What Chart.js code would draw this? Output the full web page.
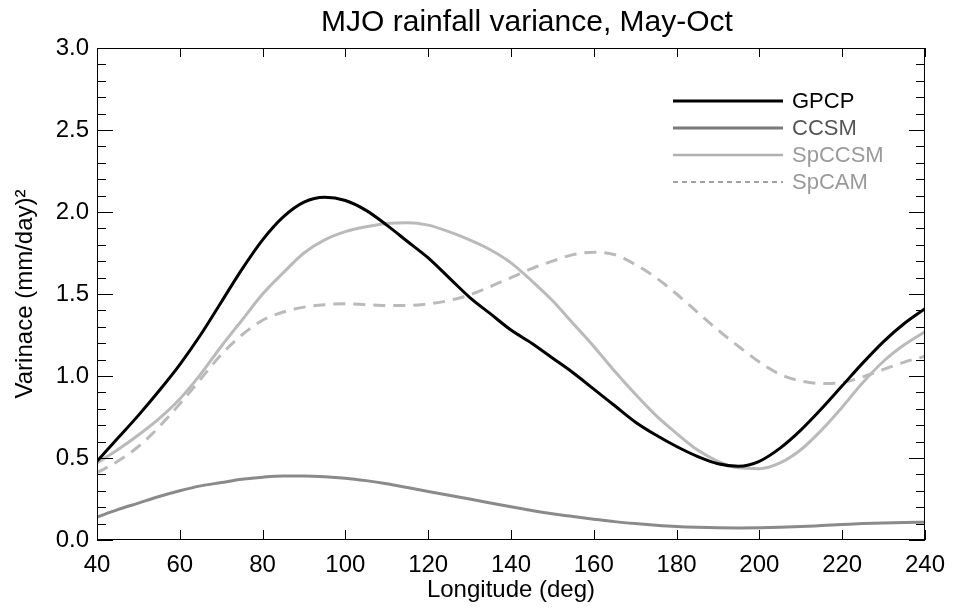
<!DOCTYPE html>
<html>
<head>
<meta charset="utf-8">
<title>MJO rainfall variance</title>
<script src="https://cdn.jsdelivr.net/npm/chart.js@4.4.1/dist/chart.umd.min.js"></script>
<style>
  html, body { margin: 0; padding: 0; background: #ffffff; }
  #wrap { width: 956px; height: 611px; }
</style>
</head>
<body>
<div id="wrap"><canvas id="mjoChart"></canvas></div>
<script>
// Datos (cada 5 grados de longitud)
const longitudes = [40, 45, 50, 55, 60, 65, 70, 75, 80, 85, 90, 95, 100, 105, 110, 115, 120, 125, 130, 135, 140,
    145, 150, 155, 160, 165, 170, 175, 180, 185, 190, 195, 200, 205, 210, 215, 220, 225, 230, 235, 240];

const gpcp = [0.48, 0.62, 0.76, 0.91, 1.07, 1.25, 1.45, 1.65, 1.83, 1.97, 2.06, 2.09, 2.07, 2.01, 1.92, 1.82,
    1.72, 1.60, 1.48, 1.38, 1.28, 1.20, 1.11, 1.02, 0.92, 0.82, 0.72, 0.64, 0.57, 0.51, 0.465, 0.45, 0.48, 0.56,
    0.67, 0.80, 0.94, 1.08, 1.21, 1.32, 1.41];

const ccsm = [0.14, 0.185, 0.225, 0.265, 0.30, 0.33, 0.35, 0.37, 0.383, 0.39, 0.39, 0.386, 0.377, 0.362, 0.343,
    0.32, 0.296, 0.273, 0.25, 0.226, 0.203, 0.18, 0.16, 0.143, 0.127, 0.112, 0.10, 0.09, 0.082, 0.077, 0.074,
    0.073, 0.074, 0.077, 0.082, 0.088, 0.094, 0.10, 0.104, 0.107, 0.108];

const spccsm = [0.47, 0.55, 0.64, 0.74, 0.86, 1.01, 1.18, 1.34, 1.50, 1.63, 1.75, 1.83, 1.88, 1.91, 1.93, 1.935,
    1.92, 1.88, 1.83, 1.77, 1.69, 1.58, 1.46, 1.32, 1.18, 1.03, 0.89, 0.76, 0.65, 0.55, 0.48, 0.44, 0.435, 0.47,
    0.55, 0.67, 0.81, 0.96, 1.09, 1.19, 1.27];

const spcam = [0.41, 0.48, 0.57, 0.69, 0.83, 0.98, 1.13, 1.25, 1.34, 1.39, 1.42, 1.435, 1.44, 1.435, 1.43, 1.43,
    1.44, 1.46, 1.495, 1.545, 1.60, 1.655, 1.70, 1.74, 1.755, 1.74, 1.68, 1.60, 1.50, 1.39, 1.28, 1.18, 1.085,
    1.01, 0.97, 0.955, 0.96, 0.995, 1.04, 1.085, 1.12];

const xTicks = [40, 60, 80, 100, 120, 140, 160, 180, 200, 220, 240];
const yTicks = [0.0, 0.5, 1.0, 1.5, 2.0, 2.5, 3.0];

const FONT = "'Liberation Sans', Arial, Helvetica, sans-serif";
const TITLE = 'MJO rainfall variance, May-Oct';

// Leyenda: texto en colores distintos, lineas a la izquierda
const legendItems = [
    { text: 'GPCP', color: '#000000', line: '#000000', width: 3, dash: [] },
    { text: 'CCSM', color: '#555555', line: '#7a7a7a', width: 3, dash: [] },
    { text: 'SpCCSM', color: '#9a9a9a', line: '#b0b0b0', width: 2.5, dash: [] },
    { text: 'SpCAM', color: '#9a9a9a', line: '#a0a0a0', width: 2, dash: [5, 4] }
];

function toPoints(values) {
    return longitudes.map((lon, i) => ({ x: lon, y: values[i] }));
}

// Marco y marcas hacia dentro en los cuatro lados
const frameTicks = {
    id: 'frameTicks',
    afterDatasetsDraw(chart) {
        const { ctx, chartArea: a, scales } = chart;
        const xs = scales.x, ys = scales.y;
        ctx.save();
        ctx.strokeStyle = '#000000';
        ctx.lineWidth = 1;
        ctx.strokeRect(a.left + 0.5, a.top + 0.5, a.right - a.left - 1, a.bottom - a.top - 1);

        ctx.beginPath();
        xTicks.forEach(v => {
            const px = Math.round(xs.getPixelForValue(v)) + 0.5;
            ctx.moveTo(px, a.bottom);
            ctx.lineTo(px, a.bottom - 10);
            ctx.moveTo(px, a.top);
            ctx.lineTo(px, a.top + 9);
        });
        for (let k = 0; k <= 30; k++) {
            const py = Math.round(ys.getPixelForValue(k / 10)) + 0.5;
            const len = (k % 5 === 0) ? 16 : 9;
            ctx.moveTo(a.left, py);
            ctx.lineTo(a.left + len, py);
            ctx.moveTo(a.right, py);
            ctx.lineTo(a.right - len, py);
        }
        ctx.stroke();
        ctx.restore();
    }
};

// Titulo y leyenda dibujados a mano
const titleAndLegend = {
    id: 'titleAndLegend',
    afterDatasetsDraw(chart) {
        const { ctx } = chart;
        ctx.save();
        ctx.fillStyle = '#000000';
        ctx.font = '30px ' + FONT;
        ctx.textAlign = 'center';
        ctx.textBaseline = 'alphabetic';
        ctx.fillText(TITLE, 527, 31);

        ctx.font = '22px ' + FONT;
        ctx.textBaseline = 'middle';
        ctx.textAlign = 'left';
        legendItems.forEach((item, i) => {
            const y = 101 + i * 27;
            ctx.beginPath();
            ctx.strokeStyle = item.line;
            ctx.lineWidth = item.width;
            ctx.setLineDash(item.dash);
            ctx.moveTo(673, y);
            ctx.lineTo(783, y);
            ctx.stroke();
            ctx.setLineDash([]);
            ctx.fillStyle = item.color;
            ctx.fillText(item.text, 792, y + 1);
        });
        ctx.restore();
    }
};

const ctx = document.getElementById('mjoChart').getContext('2d');

new Chart(ctx, {
    type: 'line',
    data: {
        datasets: [
            { label: 'GPCP', data: toPoints(gpcp), borderColor: '#000000', borderWidth: 3 },
            { label: 'CCSM', data: toPoints(ccsm), borderColor: '#8a8a8a', borderWidth: 3 },
            { label: 'SpCCSM', data: toPoints(spccsm), borderColor: '#bababa', borderWidth: 3 },
            { label: 'SpCAM', data: toPoints(spcam), borderColor: '#bababa', borderWidth: 3, borderDash: [12, 8] }
        ]
    },
    options: {
        responsive: true,
        maintainAspectRatio: false,
        animation: false,
        devicePixelRatio: 1,
        layout: { padding: { left: 0, right: 26, top: 48, bottom: 0 } },
        elements: {
            point: { radius: 0 },
            line: { cubicInterpolationMode: 'monotone', fill: false }
        },
        scales: {
            x: {
                type: 'linear',
                min: 40,
                max: 240,
                afterFit: (s) => { s.height = 71; },
                afterBuildTicks: (s) => { s.ticks = xTicks.map(v => ({ value: v })); },
                grid: { display: false, drawTicks: false },
                border: { display: false },
                ticks: {
                    color: '#000000',
                    padding: 11,
                    maxRotation: 0,
                    font: { family: FONT, size: 24 }
                },
                title: {
                    display: true,
                    text: 'Longitude (deg)',
                    color: '#000000',
                    padding: { top: 0, bottom: 6 },
                    font: { family: FONT, size: 24 }
                }
            },
            y: {
                min: 0,
                max: 3,
                afterFit: (s) => { s.width = 97; },
                afterBuildTicks: (s) => { s.ticks = yTicks.map(v => ({ value: v })); },
                grid: { display: false, drawTicks: false },
                border: { display: false },
                ticks: {
                    color: '#000000',
                    padding: 8,
                    font: { family: FONT, size: 24 },
                    callback: (v) => Number(v).toFixed(1)
                },
                title: {
                    display: true,
                    text: 'Varinace (mm/day)²',
                    color: '#000000',
                    padding: { top: 11, bottom: 0 },
                    font: { family: FONT, size: 24 }
                }
            }
        },
        plugins: {
            legend: { display: false },
            tooltip: { enabled: false },
            title: { display: false }
        }
    },
    plugins: [frameTicks, titleAndLegend]
});
</script>
</body>
</html>
